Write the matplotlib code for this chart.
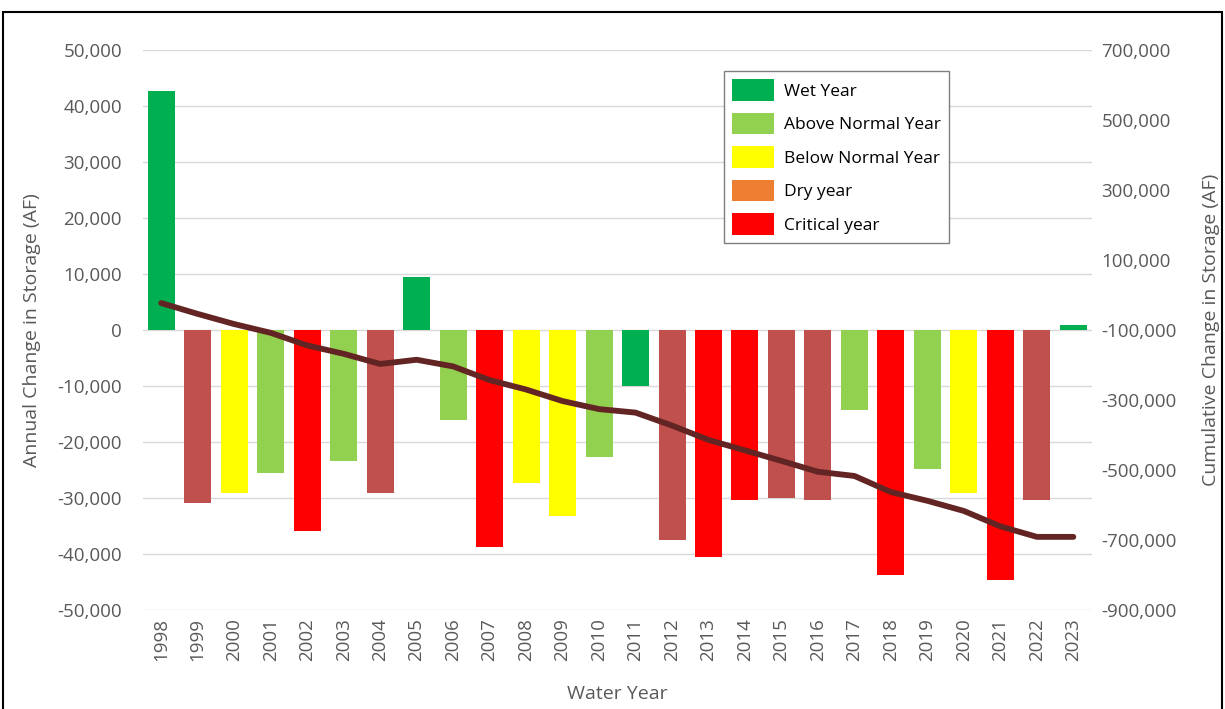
import matplotlib.pyplot as plt
from matplotlib.patches import Patch, Rectangle
from matplotlib.ticker import FuncFormatter, MultipleLocator, FixedLocator
import numpy as np

# water years and annual change in storage (AF)
years = [str(y) for y in range(1998, 2024)]
annual_change = [42700, -30900, -29100, -25500, -35900, -23400, -29100, 9500,
                 -16100, -38700, -27300, -33200, -22700, -10000, -37500, -40500,
                 -30400, -30000, -30400, -14300, -43700, -24800, -29100, -44600,
                 -30400, 900]
# year type per water year
year_type = ['wet', 'dry', 'below', 'above', 'critical', 'above', 'dry', 'wet',
             'above', 'critical', 'below', 'below', 'above', 'wet', 'dry', 'critical',
             'critical', 'dry', 'dry', 'above', 'critical', 'above', 'below', 'critical',
             'dry', 'wet']
# cumulative change in storage (AF), right axis
cumulative = [-23000, -54000, -83000, -108000, -144000, -168000, -197000, -185000,
              -204000, -243000, -270000, -303000, -326000, -336000, -373000, -414000,
              -444000, -474000, -505000, -517000, -563000, -588000, -617000, -661000,
              -691000, -691000]
right_ticks = [-900000, -700000, -500000, -300000, -100000, 100000, 300000, 500000, 700000]

legend_labels = ['Wet Year', 'Above Normal Year', 'Below Normal Year', 'Dry year', 'Critical year']

# bar colours (dry years are drawn darker red than the legend swatch)
bar_colors = {'wet': '#00B050', 'above': '#92D050', 'below': '#FFFF00',
              'dry': '#C0504D', 'critical': '#FF0000'}
legend_colors = ['#00B050', '#92D050', '#FFFF00', '#ED7D31', '#FF0000']

font = 'Open Sans'
grey = '#595959'
tick_fs = 13.5

fig = plt.figure(figsize=(12.25, 7.09), dpi=100)
ax = fig.add_axes([0.1167, 0.1396, 0.7744, 0.7899])

x = np.arange(len(years))
ax.bar(x, annual_change, width=0.74, color=[bar_colors[t] for t in year_type], zorder=2)

ax.set_ylim(-50000, 50000)
ax.set_xlim(-0.5, len(years) - 0.5)
ax.yaxis.set_major_locator(MultipleLocator(10000))
ax.yaxis.set_major_formatter(FuncFormatter(lambda v, p: f'{int(v):,}'))
ax.grid(axis='y', color='#D9D9D9', linewidth=1, zorder=0)
ax.set_axisbelow(True)
ax.set_xticks(x)
ax.set_xticklabels(years, rotation=90, fontsize=tick_fs, color=grey, family=font)
for lbl in ax.get_yticklabels():
    lbl.set_fontsize(tick_fs)
    lbl.set_color(grey)
    lbl.set_family(font)
ax.tick_params(axis='y', length=0, pad=15)
ax.tick_params(axis='x', length=0, pad=6)
for s in ax.spines.values():
    s.set_visible(False)
ax.set_ylabel('Annual Change in Storage (AF)', fontsize=14, color=grey, family=font, labelpad=12)
ax.set_xlabel('Water Year', fontsize=14, color=grey, family=font, labelpad=17)

# cumulative line on secondary axis
ax2 = ax.twinx()
ax2.plot(x, cumulative, color='#632523', linewidth=4.2, solid_capstyle='round',
         solid_joinstyle='round', zorder=3)
ax2.set_ylim(-900000, 700000)
ax2.yaxis.set_major_locator(FixedLocator(right_ticks))
ax2.yaxis.set_major_formatter(FuncFormatter(lambda v, p: f'{int(v):,}'))
for lbl in ax2.get_yticklabels():
    lbl.set_fontsize(tick_fs)
    lbl.set_color(grey)
    lbl.set_family(font)
ax2.tick_params(length=0, pad=7)
for s in ax2.spines.values():
    s.set_visible(False)
ax2.set_ylabel('Cumulative Change in Storage (AF)', fontsize=14, color=grey, family=font, labelpad=18)

# legend
handles = [Patch(facecolor=c, edgecolor='none') for c in legend_colors]
leg = ax2.legend(handles, legend_labels, loc='upper left', bbox_to_anchor=(0.613, 0.962),
                 frameon=True, fancybox=False, framealpha=1, edgecolor='#7F7F7F',
                 prop={'family': font, 'size': 12.5}, handlelength=2.4, handleheight=1.55,
                 labelspacing=0.68, borderpad=0.45, handletextpad=0.6, borderaxespad=0)
leg.get_frame().set_linewidth(1)

# outer frame
fig.add_artist(Rectangle((3 / 1225, -0.02), 1219 / 1225, 1.02 - 12 / 709,
                         transform=fig.transFigure, fill=False, edgecolor='black', linewidth=1.5))

fig.savefig('out.png', dpi=100)
